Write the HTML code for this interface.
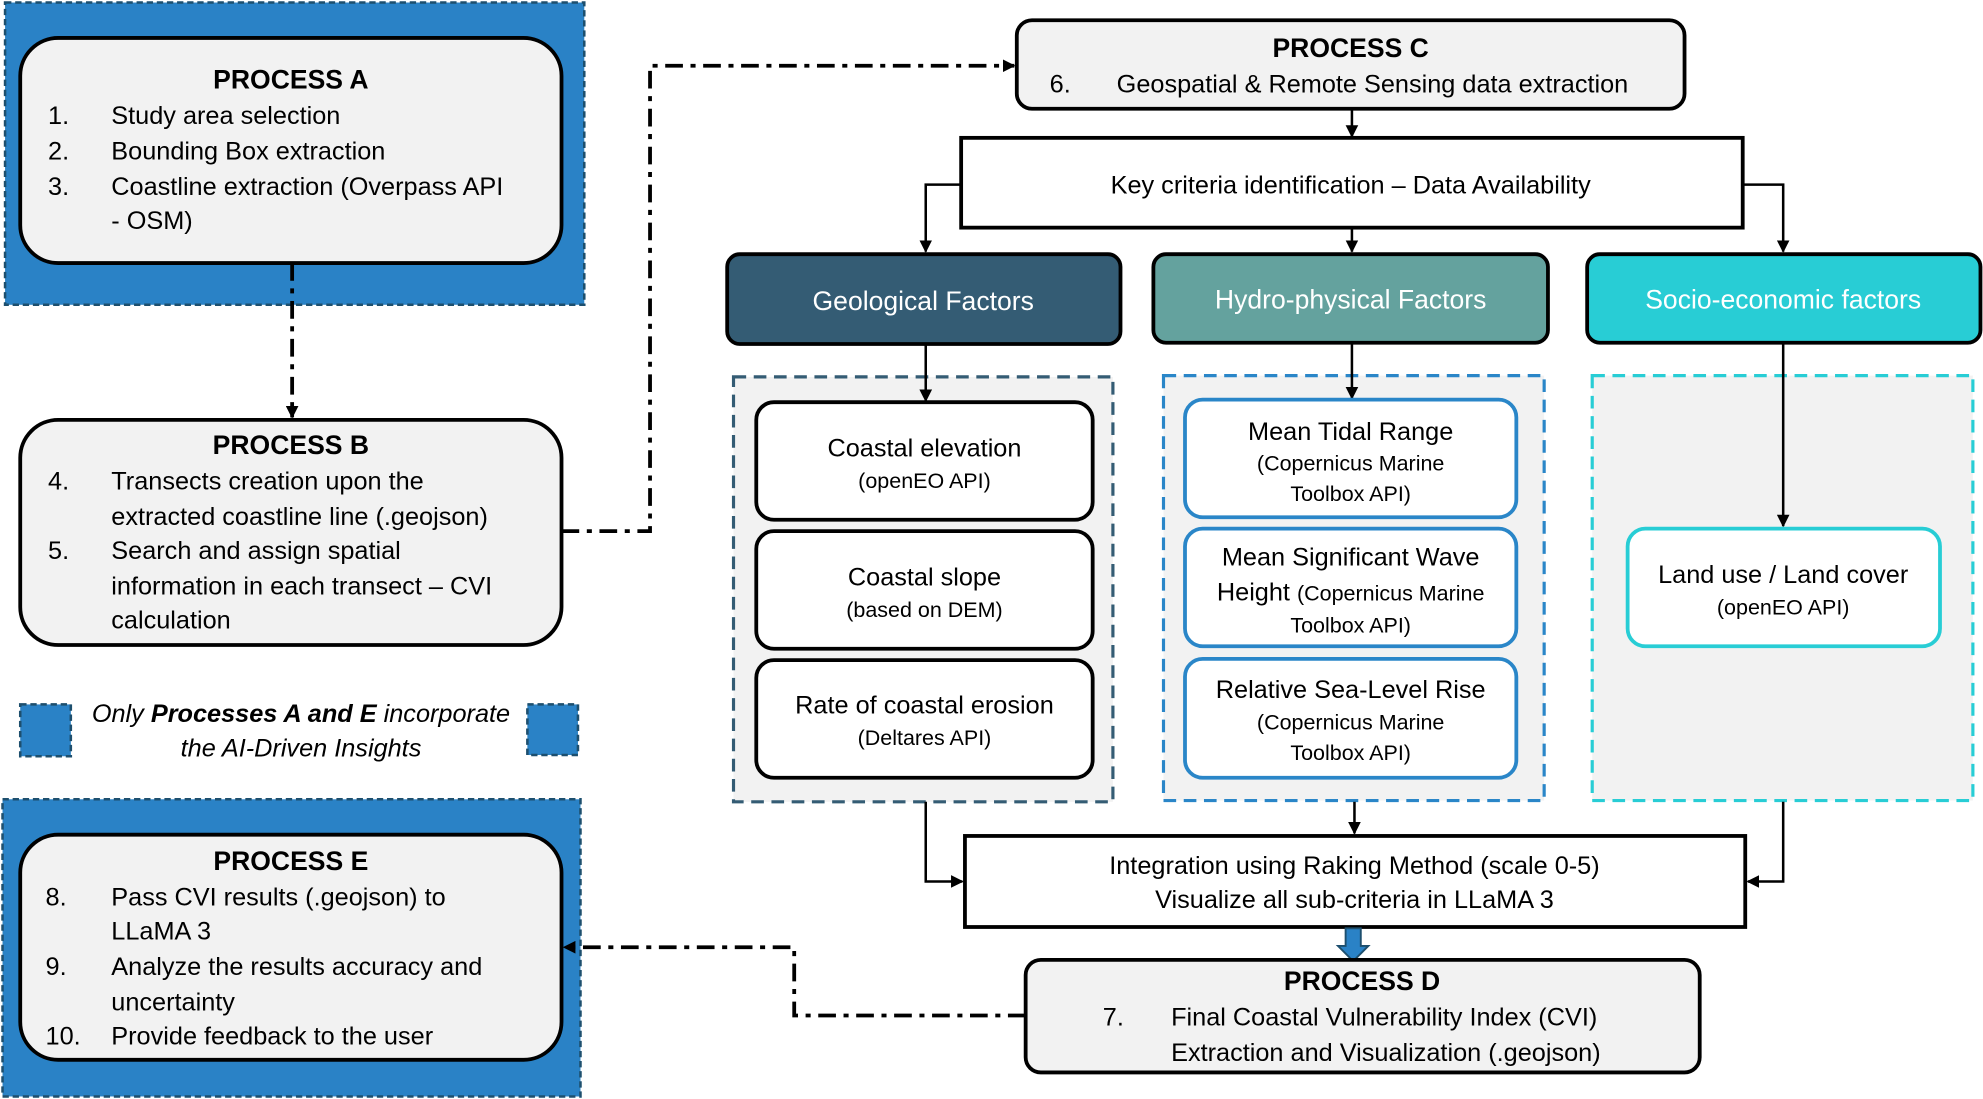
<!DOCTYPE html>
<html><head><meta charset="utf-8"><style>
html,body{margin:0;padding:0;background:#fff;width:1983px;height:1099px;overflow:hidden}
svg{display:block}
text{font-family:"Liberation Sans",sans-serif;fill:#000}
.t{font-size:20px}
.s{font-size:17px}
.h{font-size:21px;font-weight:bold}
.w{fill:#fff;font-size:21px}
</style></head><body>
<svg width="1983" height="1099" viewBox="0 0 1568 869" xmlns="http://www.w3.org/2000/svg">
<defs>
<marker id="a" markerWidth="10" markerHeight="10" refX="9" refY="5" orient="auto" markerUnits="userSpaceOnUse"><path d="M0,0 L10,5 L0,10 z" fill="#000"/></marker>
</defs>
<!-- Process A -->
<rect x="4" y="2" width="458" height="239" fill="#2a82c6" stroke="#1d4f6e" stroke-width="2" stroke-dasharray="5,3"/>
<rect x="16" y="30" width="428" height="178" rx="30" fill="#f2f2f2" stroke="#000" stroke-width="3"/>
<text class="h" x="230" y="70" text-anchor="middle">PROCESS A</text>
<text class="t" x="38" y="98">1.</text><text class="t" x="88" y="98">Study area selection</text>
<text class="t" x="38" y="126">2.</text><text class="t" x="88" y="126">Bounding Box extraction</text>
<text class="t" x="38" y="154">3.</text><text class="t" x="88" y="154">Coastline extraction (Overpass API</text>
<text class="t" x="88" y="181">- OSM)</text>
<line x1="231" y1="208" x2="231" y2="330" stroke="#000" stroke-width="3" stroke-dasharray="14,6,4,6" marker-end="url(#a)"/>
<!-- Process B -->
<rect x="16" y="332" width="428" height="178" rx="30" fill="#f2f2f2" stroke="#000" stroke-width="3"/>
<text class="h" x="230" y="359" text-anchor="middle">PROCESS B</text>
<text class="t" x="38" y="387">4.</text><text class="t" x="88" y="387">Transects creation upon the</text>
<text class="t" x="88" y="415">extracted coastline line (.geojson)</text>
<text class="t" x="38" y="442">5.</text><text class="t" x="88" y="442">Search and assign spatial</text>
<text class="t" x="88" y="470">information in each transect – CVI</text>
<text class="t" x="88" y="497">calculation</text>
<!-- legend -->
<rect x="16" y="557" width="40" height="41" fill="#2a82c6" stroke="#1d4f6e" stroke-width="2" stroke-dasharray="5,3"/>
<rect x="417" y="557" width="40" height="40" fill="#2a82c6" stroke="#1d4f6e" stroke-width="2" stroke-dasharray="5,3"/>
<text class="t" x="238" y="571" text-anchor="middle" font-style="italic">Only <tspan font-weight="bold">Processes A and E</tspan> incorporate</text>
<text class="t" x="238" y="598" text-anchor="middle" font-style="italic">the AI-Driven Insights</text>
<!-- Process E -->
<rect x="2" y="632" width="457" height="235" fill="#2a82c6" stroke="#1d4f6e" stroke-width="2" stroke-dasharray="5,3"/>
<rect x="16" y="660" width="428" height="178" rx="30" fill="#f2f2f2" stroke="#000" stroke-width="3"/>
<text class="h" x="230" y="688" text-anchor="middle">PROCESS E</text>
<text class="t" x="36" y="716">8.</text><text class="t" x="88" y="716">Pass CVI results (.geojson)  to</text>
<text class="t" x="88" y="743">LLaMA 3</text>
<text class="t" x="36" y="771">9.</text><text class="t" x="88" y="771">Analyze the results accuracy and</text>
<text class="t" x="88" y="799">uncertainty</text>
<text class="t" x="36" y="826">10.</text><text class="t" x="88" y="826">Provide feedback to the user</text>
<!-- dash-dot connectors -->
<polyline points="444,420 514,420 514,52 802,52" fill="none" stroke="#000" stroke-width="3" stroke-dasharray="14,6,4,6" marker-end="url(#a)"/>
<polyline points="811,803 628,803 628,749 446,749" fill="none" stroke="#000" stroke-width="3" stroke-dasharray="14,6,4,6" marker-end="url(#a)"/>
<!-- Process C -->
<rect x="804" y="16" width="528" height="70" rx="12" fill="#f2f2f2" stroke="#000" stroke-width="3"/>
<text class="h" x="1068" y="45" text-anchor="middle">PROCESS C</text>
<text class="t" x="830" y="73">6.</text><text class="t" x="883" y="73">Geospatial &amp; Remote Sensing data extraction</text>
<g stroke="#000" stroke-width="2" fill="none" marker-end="url(#a)">
<line x1="1069" y1="86" x2="1069" y2="108"/>
<polyline points="760,146 732,146 732,199"/>
<line x1="1069" y1="180" x2="1069" y2="199"/>
<polyline points="1378,146 1410,146 1410,199"/>
</g>
<rect x="760" y="109" width="618" height="71" fill="#fff" stroke="#000" stroke-width="3"/>
<text class="t" x="1068" y="153" text-anchor="middle">Key criteria identification – Data Availability</text>
<!-- factor headers -->
<rect x="575" y="201" width="311" height="71" rx="10" fill="#345c74" stroke="#000" stroke-width="3"/>
<text class="w" x="730" y="245" text-anchor="middle">Geological Factors</text>
<rect x="912" y="201" width="312" height="70" rx="10" fill="#64a29e" stroke="#000" stroke-width="3"/>
<text class="w" x="1068" y="244" text-anchor="middle">Hydro-physical Factors</text>
<rect x="1255" y="201" width="311" height="70" rx="10" fill="#28cdd5" stroke="#000" stroke-width="3"/>
<text class="w" x="1410" y="244" text-anchor="middle">Socio-economic factors</text>
<!-- containers -->
<rect x="580" y="298" width="300" height="336" fill="#f2f2f2" stroke="#345c74" stroke-width="2.5" stroke-dasharray="10,6"/>
<rect x="920" y="297" width="301" height="336" fill="#f2f2f2" stroke="#2a86c8" stroke-width="2.5" stroke-dasharray="10,6"/>
<rect x="1259" y="297" width="301" height="336" fill="#f2f2f2" stroke="#28cdd5" stroke-width="2.5" stroke-dasharray="10,6"/>
<g stroke="#000" stroke-width="2" fill="none" marker-end="url(#a)">
<line x1="732" y1="272" x2="732" y2="317"/>
<line x1="1069" y1="271" x2="1069" y2="315"/>
<line x1="1410" y1="271" x2="1410" y2="416"/>
</g>
<!-- geological boxes -->
<g fill="#fff" stroke="#000" stroke-width="3">
<rect x="598" y="318" width="266" height="93" rx="14"/>
<rect x="598" y="420" width="266" height="93" rx="14"/>
<rect x="598" y="522" width="266" height="93" rx="14"/>
</g>
<text class="t" x="731" y="361" text-anchor="middle">Coastal elevation</text>
<text class="s" x="731" y="386" text-anchor="middle">(openEO API)</text>
<text class="t" x="731" y="463" text-anchor="middle">Coastal slope</text>
<text class="s" x="731" y="488" text-anchor="middle">(based on DEM)</text>
<text class="t" x="731" y="564" text-anchor="middle">Rate of coastal erosion</text>
<text class="s" x="731" y="589" text-anchor="middle">(Deltares API)</text>
<!-- hydro boxes -->
<g fill="#fff" stroke="#2a86c8" stroke-width="3">
<rect x="937" y="316" width="262" height="93" rx="14"/>
<rect x="937" y="418" width="262" height="93" rx="14"/>
<rect x="937" y="521" width="262" height="94" rx="14"/>
</g>
<text class="t" x="1068" y="348" text-anchor="middle">Mean Tidal Range</text>
<text class="s" x="1068" y="372" text-anchor="middle">(Copernicus Marine</text>
<text class="s" x="1068" y="396" text-anchor="middle">Toolbox API)</text>
<text class="t" x="1068" y="447" text-anchor="middle">Mean Significant Wave</text>
<text x="1068" y="475" text-anchor="middle"><tspan class="t">Height </tspan><tspan class="s">(Copernicus Marine</tspan></text>
<text class="s" x="1068" y="500" text-anchor="middle">Toolbox API)</text>
<text class="t" x="1068" y="552" text-anchor="middle">Relative Sea-Level Rise</text>
<text class="s" x="1068" y="577" text-anchor="middle">(Copernicus Marine</text>
<text class="s" x="1068" y="601" text-anchor="middle">Toolbox API)</text>
<!-- socio box -->
<rect x="1287" y="418" width="247" height="93" rx="14" fill="#fff" stroke="#28cdd5" stroke-width="3"/>
<text class="t" x="1410" y="461" text-anchor="middle">Land use / Land cover</text>
<text class="s" x="1410" y="486" text-anchor="middle">(openEO API)</text>
<!-- integration -->
<g stroke="#000" stroke-width="2" fill="none" marker-end="url(#a)">
<line x1="1071" y1="634" x2="1071" y2="659"/>
<polyline points="732,634 732,697 761,697"/>
<polyline points="1410,634 1410,697 1382,697"/>
</g>
<rect x="763" y="661" width="617" height="72" fill="#fff" stroke="#000" stroke-width="3"/>
<text class="t" x="1071" y="691" text-anchor="middle">Integration using Raking Method (scale 0-5)</text>
<text class="t" x="1071" y="718" text-anchor="middle">Visualize all sub-criteria in LLaMA 3</text>
<!-- blue thick arrow -->
<path d="M1064,734 h12 v14 h6 l-12,12 l-12,-12 h6 z" fill="#2a82c6" stroke="#1d4f6e" stroke-width="1.5"/>
<!-- Process D -->
<rect x="811" y="759" width="533" height="89" rx="12" fill="#f2f2f2" stroke="#000" stroke-width="3"/>
<text class="h" x="1077" y="783" text-anchor="middle">PROCESS D</text>
<text class="t" x="872" y="811">7.</text><text class="t" x="926" y="811">Final Coastal Vulnerability Index (CVI)</text>
<text class="t" x="926" y="839">Extraction and Visualization  (.geojson)</text>
</svg>
</body></html>
